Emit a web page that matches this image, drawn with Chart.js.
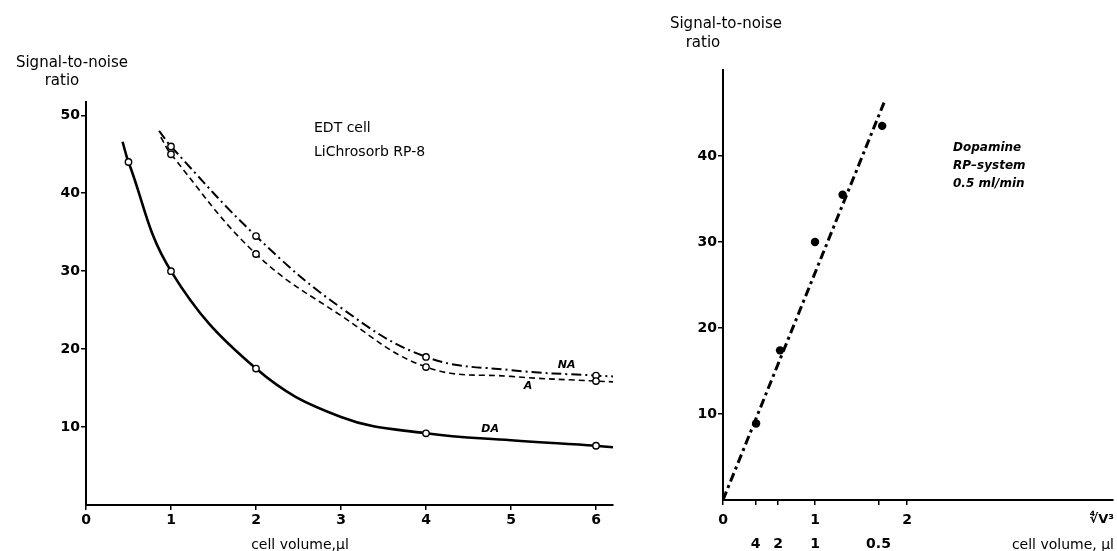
<!DOCTYPE html>
<html><head><meta charset="utf-8">
<script src="https://cdn.jsdelivr.net/npm/chart.js@4"></script>
<style>
html,body{margin:0;padding:0;background:#fff;}
#wrap{position:relative;width:1117px;height:551px;overflow:hidden;background:#fff;}
#c1{position:absolute;left:0;top:0;}
#c2{position:absolute;left:620px;top:0;}
</style></head><body>
<div id="wrap"><canvas id="c1" width="620" height="551"></canvas><canvas id="c2" width="497" height="551"></canvas></div>
<script>
// ---------- Left panel: signal-to-noise vs cell volume ----------
const leftXTicks = [0, 1, 2, 3, 4, 5, 6];
const leftYTicks = [10, 20, 30, 40, 50];

// measured points (open circles)
const volDA = [0.5, 1, 2, 4, 6];
const snDA  = [44, 30, 17.5, 9.2, 7.6];
const volA  = [1, 2, 4, 6];
const snA   = [45, 32.2, 17.7, 15.9];
const volNA = [1, 2, 4, 6];
const snNA  = [46, 34.5, 19, 16.6];

// drawn curves
const curveDAx = [0.43, 0.5, 1, 2, 3, 4, 5, 6, 6.2];
const curveDAy = [46.6, 44, 30, 17.5, 11.3, 9.2, 8.3, 7.6, 7.4];
const curveAx  = [0.88, 1, 2, 3, 4, 5, 6, 6.2];
const curveAy  = [47.2, 45, 32.2, 24.3, 17.7, 16.5, 15.9, 15.8];
const curveNAx = [0.86, 1, 2, 3, 4, 5, 6, 6.2];
const curveNAy = [48, 46, 34.5, 25.3, 19, 17.3, 16.6, 16.5];

// ---------- Right panel: S/N vs V^-3/4 ----------
const rightXTicks  = [0, 0.355, 0.6, 1, 1.69, 2];
const rightXLabel1 = ['0', '', '', '1', '', '2'];
const rightXLabel2 = ['', '4', '2', '1', '0.5', ''];
const rightYTicks  = [10, 20, 30, 40];
const dopX = [0.36, 0.62, 1.0, 1.3, 1.73];
const dopY = [8.9, 17.4, 30.0, 35.5, 43.5];
const fitX = [0, 1.75];
const fitY = [0, 46.2];

const pts = (xs, ys) => xs.map((x, i) => ({x, y: ys[i]}));
const FONT = 'DejaVu Sans';
Chart.defaults.font.family = FONT;
Chart.defaults.color = '#000';

const textPlugin = {
  id: 'texts',
  afterDraw(chart, args, opts) {
    const ctx = chart.ctx;
    ctx.save();
    ctx.fillStyle = '#000';
    ctx.textBaseline = 'middle';
    for (const t of opts.items || []) {
      let x = t.x, y = t.y;
      if (t.data) { x = chart.scales.x.getPixelForValue(t.x); y = chart.scales.y.getPixelForValue(t.y); }
      ctx.font = t.font;
      ctx.textAlign = t.align || 'left';
      ctx.fillText(t.text, x, y);
    }
    ctx.restore();
  }
};

function axisCommon(extra) {
  return Object.assign({
    type: 'linear',
    grid: { display: true, drawOnChartArea: false, drawTicks: true, tickLength: 5, color: '#000', lineWidth: 1.5 },
    border: { display: true, color: '#000', width: 2 },
  }, extra);
}

const tickFont = { size: 14, weight: 'bold' };

new Chart(document.getElementById('c1'), {
  type: 'scatter',
  data: {
    datasets: [
      { data: pts(volDA, snDA), pointRadius: 3.2, pointBackgroundColor: '#fff', pointBorderColor: '#000', pointBorderWidth: 1.4, showLine: false },
      { data: pts(volA, snA), pointRadius: 3.2, pointBackgroundColor: '#fff', pointBorderColor: '#000', pointBorderWidth: 1.4, showLine: false },
      { data: pts(volNA, snNA), pointRadius: 3.2, pointBackgroundColor: '#fff', pointBorderColor: '#000', pointBorderWidth: 1.4, showLine: false },
      { data: pts(curveDAx, curveDAy), showLine: true, pointRadius: 0, borderColor: '#000', borderWidth: 2.6, tension: 0.4 },
      { data: pts(curveAx, curveAy), showLine: true, pointRadius: 0, borderColor: '#000', borderWidth: 1.6, borderDash: [6, 4], tension: 0.4 },
      { data: pts(curveNAx, curveNAy), showLine: true, pointRadius: 0, borderColor: '#000', borderWidth: 2, borderDash: [10, 4, 2, 4], tension: 0.4 },
    ]
  },
  options: {
    responsive: false, animation: false,
    layout: { padding: { left: 36, right: 7, top: 102, bottom: 0 } },
    plugins: {
      legend: { display: false }, tooltip: { enabled: false },
      texts: { items: [
        { text: 'Signal-to-noise', x: 72, y: 63, font: '15px "DejaVu Sans"', align: 'center' },
        { text: 'ratio', x: 62, y: 81, font: '15px "DejaVu Sans"', align: 'center' },
        { text: 'EDT cell', x: 314, y: 128, font: '14px "DejaVu Sans"' },
        { text: 'LiChrosorb RP-8', x: 314, y: 152, font: '14px "DejaVu Sans"' },
        { text: 'NA', data: true, x: 5.55, y: 18.0, font: 'italic bold 11px "DejaVu Sans"' },
        { text: 'A', data: true, x: 5.15, y: 15.2, font: 'italic bold 11px "DejaVu Sans"' },
        { text: 'DA', data: true, x: 4.65, y: 9.7, font: 'italic bold 11px "DejaVu Sans"' },
        { text: 'cell volume,\u00b5l', x: 300, y: 545, font: '14px "DejaVu Sans"', align: 'center' },
      ] }
    },
    scales: {
      x: axisCommon({
        min: 0, max: 6.2,
        afterBuildTicks: s => { s.ticks = leftXTicks.map(v => ({ value: v })); },
        afterFit: s => { s.height = 46; },
        ticks: { font: tickFont, padding: 2, color: '#000', callback: v => String(v) }
      }),
      y: axisCommon({
        min: 0, max: 51.7,
        afterBuildTicks: s => { s.ticks = leftYTicks.map(v => ({ value: v })); },
        afterFit: s => { s.width = 50; },
        ticks: { font: tickFont, padding: 1, color: '#000', callback: v => String(v) }
      })
    }
  },
  plugins: [textPlugin]
});

new Chart(document.getElementById('c2'), {
  type: 'scatter',
  data: {
    datasets: [
      { data: pts(dopX, dopY), pointRadius: 4.2, pointBackgroundColor: '#000', pointBorderColor: '#000', pointBorderWidth: 0, showLine: false },
      { data: pts(fitX, fitY), showLine: true, pointRadius: 0, borderColor: '#000', borderWidth: 3, borderDash: [9, 4, 3, 4] },
    ]
  },
  options: {
    responsive: false, animation: false,
    layout: { padding: { left: 53, right: 0, top: 70, bottom: 0 } },
    plugins: {
      legend: { display: false }, tooltip: { enabled: false },
      texts: { items: [
        { text: 'Signal-to-noise', x: 106, y: 24, font: '15px "DejaVu Sans"', align: 'center' },
        { text: 'ratio', x: 83, y: 43, font: '15px "DejaVu Sans"', align: 'center' },
        { text: 'Dopamine', x: 333, y: 148, font: 'italic bold 12px "DejaVu Sans"' },
        { text: 'RP\u2013system', x: 333, y: 166, font: 'italic bold 12px "DejaVu Sans"' },
        { text: '0.5 ml/min', x: 333, y: 184, font: 'italic bold 12px "DejaVu Sans"' },
        { text: 'cell volume, \u00b5l', x: 494, y: 545, font: '14px "DejaVu Sans"', align: 'right' },
        { text: '\u221cV\u00b3', x: 494, y: 520, font: 'bold 13px "DejaVu Sans"', align: 'right' },
      ] }
    },
    scales: {
      x: axisCommon({
        min: 0, max: 4.237,
        afterBuildTicks: s => { s.ticks = rightXTicks.map(v => ({ value: v })); },
        afterFit: s => { s.height = 51; },
        ticks: { font: { size: 14, weight: 'bold', lineHeight: 1.75 }, padding: 3, color: '#000', autoSkip: false, maxRotation: 0,
          callback: (v, i) => [rightXLabel1[i], rightXLabel2[i]] }
      }),
      y: axisCommon({
        min: 0, max: 50,
        afterBuildTicks: s => { s.ticks = rightYTicks.map(v => ({ value: v })); },
        afterFit: s => { s.width = 50; },
        ticks: { font: tickFont, padding: 1, color: '#000', callback: v => String(v) }
      })
    }
  },
  plugins: [textPlugin]
});
</script>
</body></html>
